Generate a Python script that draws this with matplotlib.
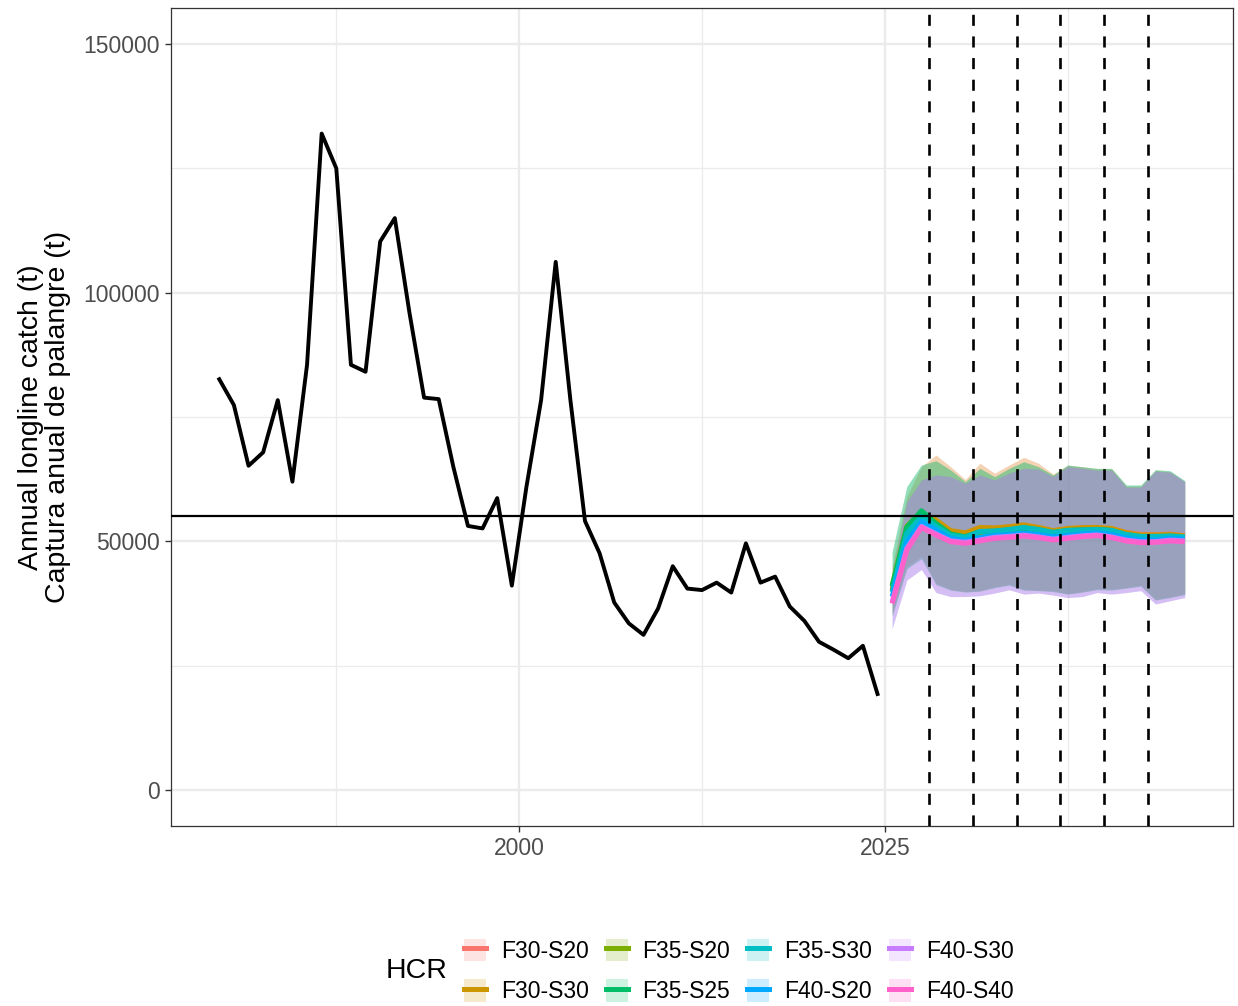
import numpy as np
import matplotlib
matplotlib.use("Agg")
import matplotlib.pyplot as plt
from matplotlib.patches import Patch
from matplotlib.lines import Line2D

plt.rcParams['font.family'] = ['Liberation Sans', 'DejaVu Sans']

# ---------------- data ----------------
hist_years = np.arange(1979.5, 2025.0, 1.0)
hist_catch = [82600, 77400, 65200, 67900, 78400, 62000, 85500, 132000, 125000, 85500,
              84100, 110300, 115000, 96000, 78900, 78600, 65000, 53100, 52600, 58700,
              41100, 61000, 78400, 106200, 78500, 54100, 47600, 37700, 33500, 31200,
              36500, 45000, 40500, 40200, 41700, 39700, 49600, 41700, 42900, 36900,
              34000, 29800, 28200, 26500, 29000, 19300]

proj_years = np.arange(2025.5, 2046.0, 1.0)

hcr_names = ["F30-S20", "F30-S30", "F35-S20", "F35-S25",
             "F35-S30", "F40-S20", "F40-S30", "F40-S40"]
hcr_colors = ["#F8766D", "#CD9600", "#7CAE00", "#00BE67",
              "#00BFC4", "#00A9FF", "#C77CFF", "#FF61CC"]

med_F30_S20 = [40000, 51600, 54800, 54000, 52000, 51600, 52600, 52500, 52800, 53100, 52700,
               52100, 52500, 52700, 52700, 52500, 51800, 51400, 51350, 51450, 51150]
med_F30_S30 = [40300, 51900, 55200, 54300, 52150, 51700, 52800, 52700, 52950, 53300, 52800,
               52150, 52600, 52750, 52800, 52600, 51740, 51280, 51280, 51400, 51075]
med_F35_S20 = [41200, 53000, 56000, 53400, 51300, 50800, 51800, 51900, 52200, 52500, 52100,
               51600, 52000, 52100, 52200, 52000, 51200, 50800, 50800, 50900, 50700]
med_F35_S25 = [40900, 52800, 56150, 53600, 51480, 50940, 51950, 52000, 52300, 52700, 52300,
               51800, 52200, 52300, 52400, 52200, 51300, 50900, 50900, 51000, 50800]
med_F35_S30 = [39800, 51600, 55000, 53000, 51200, 50800, 52000, 52100, 52400, 52800, 52400,
               51800, 52200, 52300, 52400, 52200, 51400, 51000, 51000, 51100, 50900]
med_F40_S20 = [38870, 49900, 53950, 52280, 50600, 50200, 50800, 51200, 51400, 51700, 51400,
               50900, 51200, 51500, 51700, 51400, 50700, 50300, 50300, 50600, 50500]
med_F40_S30 = [37800, 48600, 53000, 51500, 50100, 49800, 50300, 50800, 51000, 51250, 50900,
               50450, 50800, 51100, 51300, 50900, 50250, 49900, 49950, 50250, 50100]
med_F40_S40 = [37500, 48260, 52800, 51280, 49930, 49600, 50100, 50600, 50800, 51075, 50740,
               50270, 50600, 50940, 51150, 50740, 50070, 49730, 49800, 50070, 49930]

upper_F30 = [45000, 59000, 65000, 67360, 65000, 62430, 65700, 63700, 65350, 66900, 65700,
             63500, 65300, 65000, 64600, 64600, 61100, 61100, 64300, 64000, 62000]
upper_F35 = [47900, 61000, 65350, 66200, 64350, 62000, 64670, 63000, 64670, 66000, 65000,
             63340, 65350, 65000, 64670, 64670, 61330, 61330, 64400, 64200, 62200]
upper_F40 = [43500, 57950, 62340, 63340, 63000, 61650, 63340, 62340, 63700, 64670, 64500,
             63000, 65000, 64700, 64300, 64300, 60900, 60900, 64100, 63900, 62000]
lower_F30 = [35500, 44900, 47000, 41550, 40350, 39900, 40100, 40880, 41400, 40350, 40200,
             40080, 39500, 39900, 40500, 40400, 40750, 41200, 38300, 38870, 39500]
lower_F35 = [35000, 44500, 46500, 41300, 40200, 39800, 40000, 40700, 41200, 40200, 40100,
             39900, 39400, 39800, 40300, 40200, 40600, 41000, 38200, 38700, 39300]
lower_F40 = [32500, 42200, 44350, 39700, 38900, 38900, 39070, 39600, 40280, 39400, 39600,
             39200, 38700, 38900, 39700, 39400, 39700, 40100, 37400, 38060, 38700]

medians = [med_F30_S20, med_F30_S30, med_F35_S20, med_F35_S25,
           med_F35_S30, med_F40_S20, med_F40_S30, med_F40_S40]
uppers = [upper_F30, upper_F30, upper_F35, upper_F35, upper_F35, upper_F40, upper_F40, upper_F40]
lowers = [lower_F30, lower_F30, lower_F35, lower_F35, lower_F35, lower_F40, lower_F40, lower_F40]

reference_catch = 55100
decision_years = [2028, 2031, 2034, 2037, 2040, 2043]

x_ticks = [2000, 2025]
x_minor = [1987.5, 2012.5, 2037.5]
y_ticks = [0, 50000, 100000, 150000]
y_minor = [25000, 75000, 125000]

# ---------------- figure ----------------
W, H = 1238, 1006
fig = plt.figure(figsize=(W / 100, H / 100), dpi=100)
ax = fig.add_axes([171 / W, 1 - 826 / H, (1233 - 171) / W, (826 - 8) / H])

ax.set_xlim(1976.2, 2048.8)
ax.set_ylim(-7240, 157250)

ax.set_xticks(x_ticks)
ax.set_xticks(x_minor, minor=True)
ax.set_yticks(y_ticks)
ax.set_yticks(y_minor, minor=True)
ax.set_yticklabels([str(v) for v in y_ticks])
ax.set_xticklabels([str(v) for v in x_ticks])
ax.grid(which='major', color='#EBEBEB', lw=1.7, zorder=0)
ax.grid(which='minor', color='#EBEBEB', lw=0.9, zorder=0)
ax.set_axisbelow(True)
ax.tick_params(which='major', length=4, width=1.0, color='#333333',
               labelsize=16.5, labelcolor='#4D4D4D', pad=4)
ax.tick_params(which='minor', length=0)
for s in ax.spines.values():
    s.set_color('#333333')
    s.set_linewidth(0.9)

# ribbons
for c, lo, up in zip(hcr_colors, lowers, uppers):
    ax.fill_between(proj_years, lo, up, color=c, alpha=0.2, lw=0, zorder=2)
# medians
for c, m in zip(hcr_colors, medians):
    ax.plot(proj_years, m, color=c, lw=3.6, zorder=3, solid_capstyle='butt')

# historical
ax.plot(hist_years, hist_catch, color='black', lw=2.8, zorder=4)
ax.axhline(reference_catch, color='black', lw=1.6, zorder=5)
for yr in decision_years:
    ax.axvline(yr, color='black', lw=1.9, ls=(0, (4.2, 4)), zorder=5)

ax.set_ylabel("Annual longline catch (t)\nCaptura anual de palangre (t)",
              fontsize=20.5, linespacing=1.05, labelpad=9)

# legend
handles = [(Patch(facecolor=c, alpha=0.2, edgecolor='none'),
            Line2D([], [], color=c, lw=3.6)) for c in hcr_colors]
leg = fig.legend(handles, hcr_names, ncol=4, loc='center left',
                 bbox_to_anchor=(464 / W, 1 - 971 / H), frameon=False,
                 fontsize=16.5, handlelength=0.95, handleheight=1.15,
                 handletextpad=0.65, columnspacing=0.75, labelspacing=0.72,
                 borderpad=0, borderaxespad=0)
fig.text(386 / W, 1 - 971 / H, "HCR", fontsize=20.5, va='center', ha='left')

fig.savefig("out.png", dpi=100)
